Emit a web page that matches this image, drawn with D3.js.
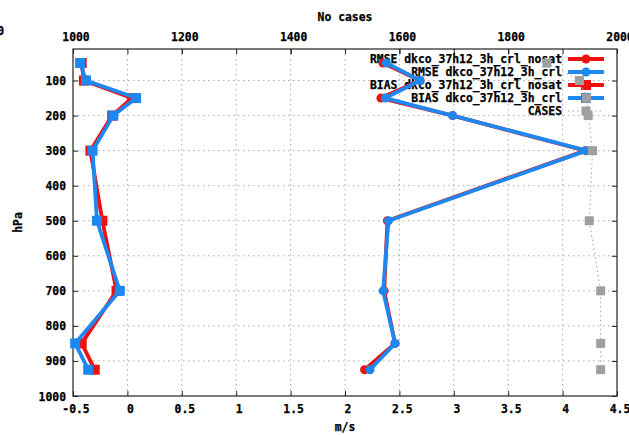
<!DOCTYPE html>
<html><head><meta charset="utf-8">
<script src="https://cdn.jsdelivr.net/npm/d3@7"></script>
<style>
html,body{margin:0;padding:0;background:#fff;}
text{font-family:"DejaVu Sans Mono",monospace;font-weight:bold;font-size:11.4px;fill:#000;stroke:#000;stroke-width:0.25px;}
</style></head>
<body><svg id="c" width="629" height="435"></svg>
<script>
const levels = [50, 100, 150, 200, 300, 500, 700, 850, 925];
const rmseNosat = [2.35, 2.69, 2.33, 2.99, 4.21, 2.39, 2.36, 2.46, 2.18];
const rmseCrl   = [2.38, 2.69, 2.37, 2.99, 4.22, 2.40, 2.35, 2.46, 2.23];
const biasNosat = [-0.42, -0.40, 0.04, -0.14, -0.34, -0.23, -0.10, -0.42, -0.30];
const biasCrl   = [-0.435, -0.38, 0.08, -0.13, -0.32, -0.28, -0.07, -0.48, -0.36];
const cases     = [1871, 1931, 1944, 1947, 1955, 1949, 1970, 1970, 1970];
const xTicks = [-0.5, 0, 0.5, 1, 1.5, 2, 2.5, 3, 3.5, 4, 4.5];
const x2Ticks = [1000, 1200, 1400, 1600, 1800, 2000];
const yTicks = [100, 200, 300, 400, 500, 600, 700, 800, 900, 1000];
const legendLabels = ["RMSE dkco_37h12_3h_crl_nosat", "RMSE dkco_37h12_3h_crl", "BIAS dkco_37h12_3h_crl_nosat", "BIAS dkco_37h12_3h_crl", "CASES"];

const RED = "#f01010", BLUE = "#1e88f0", GRAY = "#a0a0a0";
const L = 73, R = 617, T = 49, B = 396;
const x = d3.scaleLinear([-0.5, 4.5], [L, R]);
const x2 = d3.scaleLinear([1000, 2000], [L, R]);
const y = d3.scaleLinear([10, 1000], [T, B]);
const svg = d3.select("#c");

// grid
const g = svg.append("g");
g.selectAll(".gx").data(xTicks.slice(1, -1)).enter().append("line")
  .attr("x1", d => x(d)).attr("x2", d => x(d)).attr("y1", T).attr("y2", B)
  .attr("stroke", "#aaa").attr("stroke-width", 1).attr("stroke-dasharray", "1.5,3.5");
g.selectAll(".gy").data(yTicks.slice(0, -1)).enter().append("line")
  .attr("x1", L).attr("x2", R).attr("y1", d => y(d)).attr("y2", d => y(d))
  .attr("stroke", "#aaa").attr("stroke-width", 1).attr("stroke-dasharray", "1.5,3.5");

// axes with inward ticks
const axB = svg.append("g").attr("transform", `translate(0,${B})`)
  .call(d3.axisBottom(x).tickValues(xTicks).tickSizeInner(-5).tickSizeOuter(0).tickFormat(d3.format("")));
const axT = svg.append("g").attr("transform", `translate(0,${T})`)
  .call(d3.axisTop(x).tickValues(xTicks).tickSizeInner(-5).tickSizeOuter(0).tickFormat(""));
const axT2 = svg.append("g").attr("transform", `translate(0,${T})`)
  .call(d3.axisTop(x2).tickValues(x2Ticks).tickSizeInner(-5).tickSizeOuter(0).tickFormat(d3.format("d")));
const axL = svg.append("g").attr("transform", `translate(${L},0)`)
  .call(d3.axisLeft(y).tickValues(yTicks).tickSizeInner(-5).tickSizeOuter(0).tickFormat(d3.format("d")));
const axR = svg.append("g").attr("transform", `translate(${R},0)`)
  .call(d3.axisRight(y).tickValues(yTicks).tickSizeInner(-5).tickSizeOuter(0).tickFormat(""));
[axB, axT, axT2, axL, axR].forEach(a => {
  a.select(".domain").remove();
  a.selectAll("line").attr("stroke", "#222");
  a.attr("font-family", null).attr("font-size", null);
  a.selectAll("text").attr("fill", null);
});
axB.selectAll("text").attr("dy", "0.71em").attr("y", 9).attr("dx", 2.5);
axB.selectAll("text").text(d => d === -0.5 ? "-0.5" : String(d));
axT2.selectAll("text").attr("y", -8).attr("dx", 2.5);
axL.selectAll("text").attr("x", -7).attr("dy", null).attr("y", 4);

svg.append("rect").attr("x", L).attr("y", T).attr("width", R - L).attr("height", B - T)
  .attr("fill", "none").attr("stroke", "#222").attr("stroke-width", 1.2);

// titles
svg.append("text").attr("x", (L + R) / 2).attr("y", 21).attr("text-anchor", "middle").text("No cases");
svg.append("text").attr("x", (L + R) / 2).attr("y", 431).attr("text-anchor", "middle").text("m/s");
svg.append("text").attr("transform", `translate(22,${(T + B) / 2}) rotate(-90)`).attr("text-anchor", "middle").text("hPa");
svg.append("text").attr("x", 4).attr("y", 35).attr("text-anchor", "end").text("0");

// legend
const lg = svg.append("g");
const rowY = i => 59 + i * 13;
const colors = [RED, BLUE, RED, BLUE, GRAY];
legendLabels.forEach((t, i) => {
  lg.append("text").attr("x", 562).attr("y", rowY(i) + 4).attr("text-anchor", "end").text(t);
});
function sym(sel, type, cx, cy, color, size) {
  if (type === "c") sel.append("circle").attr("cx", cx).attr("cy", cy).attr("r", size / 2).attr("fill", color);
  else sel.append("rect").attr("x", cx - size / 2).attr("y", cy - size / 2).attr("width", size).attr("height", size).attr("fill", color);
}
const types = ["c", "c", "s", "s", "s"];
legendLabels.forEach((t, i) => {
  const ln = lg.append("line").attr("x1", 568).attr("x2", 604).attr("y1", rowY(i)).attr("y2", rowY(i))
    .attr("stroke", colors[i]);
  if (i < 4) ln.attr("stroke-width", 3.8);
  else ln.attr("stroke-width", 1).attr("stroke-dasharray", "1.5,3");
  sym(lg, types[i], 586, rowY(i), colors[i], i < 2 ? 9 : (i < 4 ? 10 : 9));
});

// series
const series = [
  {v: rmseNosat, c: RED, t: "c"},
  {v: rmseCrl, c: BLUE, t: "c"},
  {v: biasNosat, c: RED, t: "s"},
  {v: biasCrl, c: BLUE, t: "s"}
];
series.forEach(s => {
  const pts = levels.map((p, i) => [x(s.v[i]), y(p)]);
  svg.append("path").attr("d", d3.line()(pts)).attr("fill", "none")
    .attr("stroke", s.c).attr("stroke-width", 3.8).attr("stroke-linejoin", "round");
  const gg = svg.append("g");
  pts.forEach(p => sym(gg, s.t, p[0], p[1], s.c, s.t === "c" ? 9 : 10));
});
const cpts = levels.map((p, i) => [x2(cases[i]), y(p)]);
svg.append("path").attr("d", d3.line()(cpts)).attr("fill", "none")
  .attr("stroke", GRAY).attr("stroke-width", 1).attr("stroke-dasharray", "1.5,3");
const cg = svg.append("g");
cpts.forEach(p => sym(cg, "s", p[0], p[1], GRAY, 9));
</script></body></html>
